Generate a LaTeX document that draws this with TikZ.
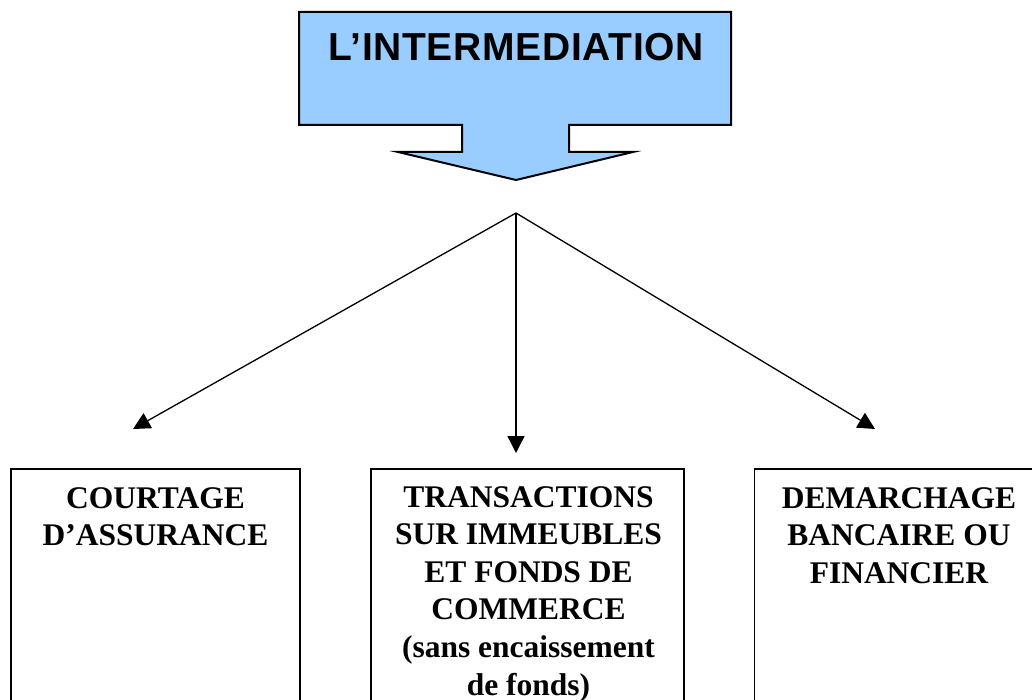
\documentclass[tikz,border=0pt]{standalone}
\usepackage{fontspec}
\setmainfont{Liberation Serif}
\newfontfamily\titlefont[LetterSpace=1.7]{Liberation Sans}
\usetikzlibrary{arrows.meta,positioning}
\definecolor{calloutblue}{HTML}{99CCFF}

\begin{document}
\begin{tikzpicture}[x=1pt,y=-1pt,
  branch/.style={line width=1.3pt,-{Triangle[length=17pt,width=17pt]}},
  framebox/.style={draw,line width=1.5pt,minimum height=320pt,anchor=north,inner sep=0pt},
  boxlabel/.style={anchor=north,align=center,inner sep=0pt,
    font=\fontsize{31.5}{37.6}\selectfont\bfseries}]
	\clip (0,0) rectangle (1032,700);
	% callout arrow
	\draw[fill=calloutblue,line width=2pt,line join=miter] (299,12) -- (731,12) -- (731,125) -- (569,125)
	  -- (569,152) -- (633,152) -- (516,180) -- (398,152) -- (462,152) -- (462,125) -- (299,125) -- cycle;
	\node[font=\titlefont\fontsize{39}{39}\selectfont\bfseries] (title) at (516,47) {L’INTERMEDIATION};
	% boxes
	\node[framebox,minimum width=289pt] (courtage) at (155.5,468) {};
	\node[framebox,minimum width=313pt] (transactions) at (527.5,468) {};
	\node[framebox,minimum width=289pt] (demarchage) at (899,468) {};
	\node[boxlabel] (courtagetxt) at (155.5,487) {COURTAGE\\D’ASSURANCE};
	\node[boxlabel] (transactionstxt) at (528.5,486) {TRANSACTIONS\\SUR IMMEUBLES\\ET FONDS DE\\COMMERCE\\(sans encaissement\\de fonds)};
	\node[boxlabel] (demarchagetxt) at (899,487) {DEMARCHAGE\\BANCAIRE OU\\FINANCIER};
	% branches
	\coordinate (hub) at (516,213);
	\coordinate (tipL) at (133,429);
	\coordinate (tipM) at (516,453);
	\coordinate (tipR) at (875,429);
	\draw[branch] (hub) -- (tipL);
	\draw[branch] (hub) -- (tipM);
	\draw[branch] (hub) -- (tipR);
\end{tikzpicture}
\end{document}
